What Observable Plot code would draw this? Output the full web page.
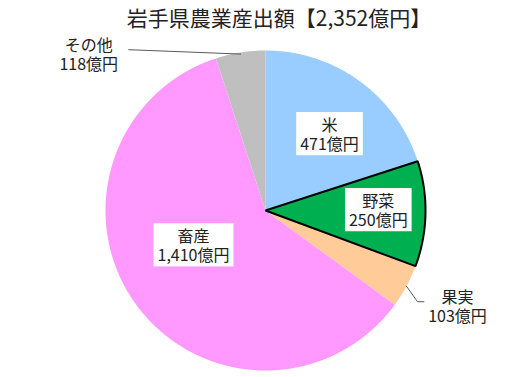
<!DOCTYPE html>
<html>
<head>
<meta charset="utf-8">
<script src="https://cdn.jsdelivr.net/npm/d3@7"></script>
<script src="https://cdn.jsdelivr.net/npm/@observablehq/plot@0.6"></script>
<style>
  html, body { margin: 0; padding: 0; background: #fff; }
  svg { font-family: "Noto Sans CJK JP", sans-serif; }
</style>
</head>
<body>
<script>
// ---- data ----
const titleText = "岩手県農業産出額【2,352億円】";
const categories = ["米", "野菜", "果実", "畜産", "その他"];
const values = [471, 250, 103, 1410, 118];
const unit = "億円";

// ---- styles / layout (not data) ----
const colors = ["#99CCFF", "#00B050", "#FFCC99", "#FF99FF", "#BFBFBF"];
const W = 527, H = 377, CX = 265, CY = 210, R = 160;
// label positions in pie-radius units (x right, y up)
const labelPos = {
  "米": [0.40, 0.475],
  "野菜": [0.705, 0.0],
  "畜産": [-0.45, -0.22],
  "果実": [1.2, -0.6],
  "その他": [-1.105, 0.975]
};
const insideLabels = ["米", "野菜", "畜産"];

const fmt = d3.format(",");
const pie = d3.pie().sort(null).value(d => d.value);
const arcs = pie(categories.map((c, i) => ({key: c, value: values[i], color: colors[i]})));

// polygons for slices
const poly = [];
for (const a of arcs) {
  const n = Math.max(4, Math.ceil((a.endAngle - a.startAngle) / 0.01));
  poly.push({key: a.data.key, color: a.data.color, x: 0, y: 0});
  for (let k = 0; k <= n; k++) {
    const t = a.startAngle + (a.endAngle - a.startAngle) * k / n;
    poly.push({key: a.data.key, color: a.data.color, x: Math.sin(t), y: Math.cos(t)});
  }
  poly.push({key: a.data.key, color: a.data.color, x: 0, y: 0});
}
const vegPoly = poly.filter(d => d.key === "野菜");

const labels = arcs.map(a => ({
  key: a.data.key,
  text: a.data.key + "\n" + fmt(a.data.value) + unit,
  x: labelPos[a.data.key][0],
  y: labelPos[a.data.key][1]
}));

// leader lines: from slice edge (mid angle) to label side
const mid = k => { const a = arcs.find(d => d.data.key === k); return (a.startAngle + a.endAngle) / 2; };
const leaders = [
  {key: "その他", x: Math.sin(mid("その他")) * 0.99, y: Math.cos(mid("その他")) * 0.99},
  {key: "その他", x: -0.855, y: 1.005},
  {key: "果実", x: Math.sin(mid("果実")) * 1.0, y: Math.cos(mid("果実")) * 1.0},
  {key: "果実", x: 0.95, y: -0.57},
  {key: "果実", x: 0.99, y: -0.57}
];

const plot = Plot.plot({
  width: W,
  height: H,
  margin: 0,
  x: {type: "linear", domain: [-1, 1], range: [CX - R, CX + R], axis: null},
  y: {type: "linear", domain: [-1, 1], range: [CY + R, CY - R], axis: null},
  style: {fontFamily: "'Noto Sans CJK JP', sans-serif", background: "#fff"},
  marks: [
    Plot.line(poly, {x: "x", y: "y", z: "key", fill: "color", stroke: "none", curve: "linear-closed"}),
    Plot.line(vegPoly, {x: "x", y: "y", fill: "none", stroke: "#000", strokeWidth: 2, curve: "linear-closed", strokeLinejoin: "miter"}),
    Plot.line(leaders, {x: "x", y: "y", z: "key", stroke: "#595959", strokeWidth: 1}),
    Plot.text(labels, {
      x: "x", y: "y", text: "text", fontSize: 16, lineHeight: 1.2, fill: "#222"
    }),
    Plot.text([titleText], {
      frameAnchor: "top", text: d => d, fontSize: 21, lineAnchor: "middle", dy: 19, dx: 15, fill: "#222"
    })
  ]
});
document.body.append(plot);

// white background boxes behind inside labels
for (const t of Array.from(plot.querySelectorAll("text"))) {
  const first = t.querySelector("tspan");
  const head = first ? first.textContent : t.textContent;
  if (!insideLabels.includes(head)) continue;
  const b = t.getBBox();
  const r = document.createElementNS("http://www.w3.org/2000/svg", "rect");
  r.setAttribute("x", b.x - 4);
  r.setAttribute("y", b.y);
  r.setAttribute("width", b.width + 8);
  r.setAttribute("height", b.height);
  r.setAttribute("fill", "#fff");
  const tr = t.getAttribute("transform");
  if (tr) r.setAttribute("transform", tr);
  t.parentNode.insertBefore(r, t);
}
</script>
</body>
</html>
